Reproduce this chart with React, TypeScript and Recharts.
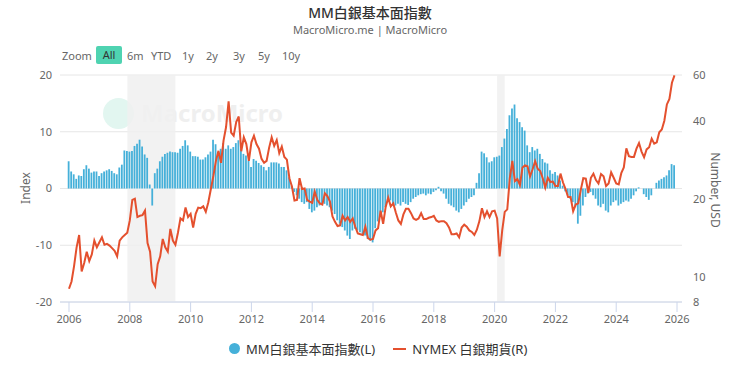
import { ComposedChart, Bar, Line, XAxis, YAxis, CartesianGrid, ReferenceArea } from 'recharts'

const START_YEAR = 2006

// MM silver fundamentals index, monthly from Jan 2006
const indexValues = [
  4.8, 3.0, 2.5, 1.7, 2.3, 2.2, 3.4, 4.1, 3.5, 2.8, 3.0, 3.0,
  2.2, 2.7, 3.0, 3.2, 3.4, 3.1, 2.7, 2.5, 3.7, 4.2, 6.7, 6.6,
  6.5, 6.6, 7.5, 7.9, 8.6, 7.4, 6.0, 5.4, 0.7, -3.0, 2.7, 3.5,
  4.8, 5.6, 6.1, 6.3, 6.5, 6.4, 6.4, 6.3, 7.0, 7.5, 8.5, 7.6,
  6.5, 5.7, 5.7, 5.6, 5.1, 5.1, 5.5, 6.0, 6.5, 8.6, 7.8, 6.4,
  7.0, 8.0, 7.0, 7.6, 7.0, 7.3, 8.0, 8.5, 7.0, 6.1, 5.8, 4.9,
  3.8, 5.2, 4.9, 4.5, 4.1, 3.8, 3.2, 3.8, 4.6, 4.6, 4.6, 4.4,
  3.8, 3.8, 3.2, 2.0, 0.5, -0.6, -1.2, -1.8, -2.4, -2.7, -2.4, -3.6,
  -4.2, -3.9, -3.3, -3.0, -2.7, -2.7, -3.0, -3.3, -3.9, -4.5, -5.6, -6.2,
  -6.8, -7.4, -8.3, -8.9, -7.4, -7.1, -7.4, -7.7, -8.0, -8.3, -8.9, -9.2,
  -9.5, -7.0, -5.8, -5.0, -4.2, -3.3, -2.4, -2.1, -2.7, -3.0, -2.7, -3.0,
  -2.4, -2.7, -2.9, -2.4, -1.8, -1.5, -1.2, -1.0, -0.9, -1.2, -0.9, -1.0,
  -0.6, -0.3, 0.3, -0.5, -0.9, -1.8, -2.7, -3.0, -3.3, -3.9, -4.2, -3.6,
  -3.0, -2.4, -1.8, -1.5, -1.2, 1.0, 2.7, 6.5, 6.2, 5.5, 4.6, 4.8,
  5.5, 5.6, 5.8, 7.3, 8.8, 10.5, 12.9, 14.1, 14.8, 12.4, 11.7, 10.8,
  10.2, 7.6, 6.4, 7.3, 6.7, 7.0, 6.1, 5.2, 4.6, 4.4, 3.2, 2.6,
  2.9, 2.3, 1.4, 0.5, -0.5, -1.2, -1.8, -2.4, -3.3, -6.2, -4.8, -3.0,
  -1.5, -0.9, -0.6, -1.2, -1.8, -3.0, -3.3, -2.7, -3.9, -4.2, -3.0, -2.4,
  -2.1, -3.0, -2.7, -2.4, -2.1, -2.3, -1.8, -1.2, -0.5, 0.2, 0, -1.0,
  -1.5, -2.0, -1.2, 0, 1.0, 1.4, 1.7, 2.0, 2.3, 3.2, 4.3, 4.1,
]

// NYMEX silver futures, USD, monthly from Jan 2006
const silverPrices = [
  9.0, 9.6, 11.0, 13.0, 14.5, 10.5, 11.3, 12.5, 11.5, 12.2, 13.8, 13.0,
  13.6, 14.2, 13.3, 13.4, 13.2, 12.9, 12.6, 12.0, 13.8, 14.2, 14.5, 14.8,
  16.5, 19.8, 20.0, 17.0, 17.2, 17.3, 18.0, 13.5, 12.5, 9.6, 9.2, 11.2,
  12.0, 14.0, 13.0, 12.5, 15.3, 13.8, 13.3, 14.8, 16.8, 16.5, 18.5, 17.0,
  17.5, 15.5, 17.5, 18.5, 18.4, 18.7, 17.8, 19.4, 21.8, 24.5, 28.0, 30.6,
  27.5, 33.5, 37.8, 47.5, 36.0, 35.0, 39.5, 41.5, 30.5, 34.5, 32.5, 28.0,
  33.0, 35.0, 32.5, 31.2, 28.5, 27.5, 28.0, 31.5, 34.5, 32.0, 33.7, 30.0,
  31.8, 29.0, 28.3, 24.0, 22.3, 19.7, 19.8, 24.0, 21.8, 21.9, 19.8, 19.5,
  19.3, 21.3, 19.8, 19.2, 19.0, 21.0, 20.5, 19.5, 17.1, 16.3, 15.7, 15.8,
  17.2, 16.5, 17.0, 16.3, 16.8, 15.6, 14.7, 14.6, 14.5, 15.6, 14.1, 13.9,
  14.0, 15.1, 15.4, 18.0, 16.0, 18.6, 20.2, 18.7, 19.2, 17.7, 16.5, 16.0,
  17.4, 18.3, 18.3, 17.6, 16.8, 16.6, 16.8, 17.6, 16.7, 16.7, 16.9, 17.0,
  17.2, 16.5, 16.3, 16.4, 16.4, 16.1, 15.5, 14.6, 14.6, 14.7, 14.2, 15.5,
  15.9, 15.6, 15.1, 14.9, 14.5, 15.2, 16.4, 18.4, 17.0, 17.9, 17.0, 17.9,
  18.0, 16.8, 12.0, 15.1, 17.8, 18.2, 24.0, 28.0, 23.4, 23.8, 22.6, 26.4,
  26.9, 26.7, 24.4, 26.0, 27.9, 26.1, 25.6, 24.0, 22.1, 24.1, 23.2, 23.3,
  22.4, 22.4, 25.0, 23.1, 21.8, 20.3, 20.3, 17.9, 19.0, 19.2, 21.6, 24.0,
  23.9, 21.1, 24.1, 25.0, 23.6, 22.9, 24.9, 24.4, 22.4, 22.9, 25.3, 24.1,
  22.9, 22.7, 25.1, 26.4, 31.3, 29.2, 29.0, 29.0, 31.2, 32.8, 30.4, 28.9,
  31.0, 31.6, 34.1, 32.6, 33.0, 36.1, 37.0, 40.0, 46.2, 48.5, 56.0, 59.8,
]

const yearTicks = [2006, 2008, 2010, 2012, 2014, 2016, 2018, 2020, 2022, 2024, 2026]
const indexTicks = [-20, -10, 0, 10, 20]
const priceTicks = [8, 10, 20, 40, 60]
const recessions = [
  [2007.92, 2009.5],
  [2020.08, 2020.33],
]
const zoomButtons = [
  { label: '6m', x: 127 },
  { label: 'YTD', x: 151 },
  { label: '1y', x: 182 },
  { label: '2y', x: 206 },
  { label: '3y', x: 233 },
  { label: '5y', x: 258 },
  { label: '10y', x: 282 },
]

const chartData = silverPrices.map((price, i) => ({
  t: START_YEAR + i / 12,
  index: indexValues[i] ?? null,
  price,
}))

const FONT = '"Noto Sans", "Noto Sans CJK TC", sans-serif'
const tickStyle = { fill: '#666666', fontSize: 11, fontFamily: FONT }

export default function App() {
  return (
    <div
      style={{
        position: 'absolute',
        left: 0,
        top: 0,
        width: 740,
        height: 368,
        background: '#fff',
        fontFamily: FONT,
        overflow: 'hidden',
      }}
    >
      <div style={{ position: 'absolute', top: 2, width: 740, textAlign: 'center', fontSize: 14, color: '#333', fontWeight: 500 }}>
        MM白銀基本面指數
      </div>
      <div style={{ position: 'absolute', top: 22, width: 740, textAlign: 'center', fontSize: 11, color: '#666' }}>
        MacroMicro.me | MacroMicro
      </div>

      <div style={{ position: 'absolute', left: 62, top: 47, fontSize: 11, color: '#666', lineHeight: '17px' }}>Zoom</div>
      <div
        style={{
          position: 'absolute',
          left: 96,
          top: 46,
          width: 26,
          height: 18,
          background: '#4fd3b1',
          borderRadius: 2,
          fontSize: 11,
          color: '#333',
          textAlign: 'center',
          lineHeight: '18px',
        }}
      >
        All
      </div>
      {zoomButtons.map((b) => (
        <div key={b.label} style={{ position: 'absolute', left: b.x, top: 47, fontSize: 11, color: '#666', lineHeight: '17px' }}>
          {b.label}
        </div>
      ))}

      {/* watermark */}
      <div style={{ position: 'absolute', left: 103, top: 98, width: 31, height: 31, borderRadius: '50%', background: '#e2f6f0' }} />
      <div style={{ position: 'absolute', left: 141, top: 97, fontSize: 24, fontWeight: 700, color: '#efefef', lineHeight: '32px' }}>
        MacroMicro
      </div>

      <div style={{ position: 'absolute', left: 0, top: 0 }}>
        <ComposedChart width={740} height={368} data={chartData} margin={{ top: 75, right: 18, bottom: 36, left: 10 }}>
          <CartesianGrid yAxisId="left" vertical={false} stroke="#e6e6e6" />
          {recessions.map(([a, b]) => (
            <ReferenceArea key={a} yAxisId="left" x1={a} x2={b} fill="#f0f0f0" fillOpacity={0.85} stroke="none" />
          ))}
          <XAxis
            dataKey="t"
            type="number"
            domain={[2005.704, 2026.164]}
            allowDataOverflow
            ticks={yearTicks}
            tickFormatter={(v: number) => String(Math.round(v))}
            height={30}
            tickSize={10}
            tickMargin={3}
            stroke="#ccd6eb"
            tick={tickStyle}
          />
          <YAxis
            yAxisId="left"
            domain={[-20, 20]}
            ticks={indexTicks}
            width={50}
            axisLine={false}
            tickLine={false}
            tick={tickStyle}
          />
          <YAxis
            yAxisId="right"
            orientation="right"
            scale="log"
            type="number"
            domain={[8, 60]}
            allowDataOverflow
            ticks={priceTicks}
            width={40}
            axisLine={false}
            tickLine={false}
            tickMargin={5}
            tick={tickStyle}
          />
          <Bar yAxisId="left" dataKey="index" fill="#45b0d9" barSize={1.8} isAnimationActive={false} />
          <Line
            yAxisId="right"
            dataKey="price"
            type="linear"
            stroke="#e4502e"
            strokeWidth={2}
            dot={false}
            isAnimationActive={false}
          />
        </ComposedChart>
      </div>

      <div
        style={{
          position: 'absolute',
          left: 25,
          top: 188,
          transform: 'translate(-50%, -50%) rotate(-90deg)',
          fontSize: 12,
          color: '#666',
          whiteSpace: 'nowrap',
        }}
      >
        Index
      </div>
      <div
        style={{
          position: 'absolute',
          left: 715,
          top: 190,
          transform: 'translate(-50%, -50%) rotate(90deg)',
          fontSize: 12,
          color: '#666',
          whiteSpace: 'nowrap',
        }}
      >
        Number, USD
      </div>

      <div style={{ position: 'absolute', left: 229, top: 339, display: 'flex', alignItems: 'center', fontSize: 13, color: '#333', whiteSpace: 'nowrap' }}>
        <span style={{ width: 11, height: 11, borderRadius: '50%', background: '#45b0d9', display: 'inline-block', marginRight: 6 }} />
        <span>MM白銀基本面指數(L)</span>
        <span style={{ width: 13, height: 2, background: '#e4502e', display: 'inline-block', marginLeft: 18, marginRight: 6 }} />
        <span>NYMEX 白銀期貨(R)</span>
      </div>
    </div>
  )
}
